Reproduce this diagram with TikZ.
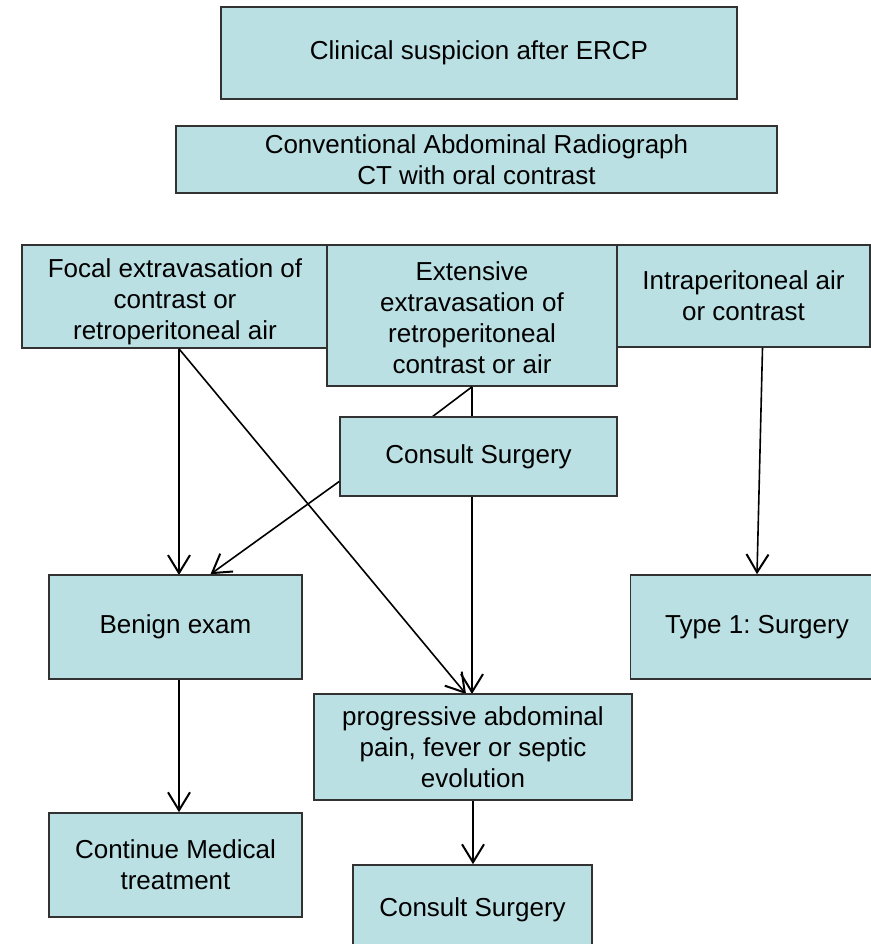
\documentclass[tikz,border=0pt]{standalone}
\usepackage{fontspec}
\setmainfont{Liberation Sans}
\usepackage{xcolor}
\definecolor{boxfill}{RGB}{187,224,227}
\definecolor{boxline}{RGB}{50,50,50}
\usetikzlibrary{arrows.meta,calc}

\tikzset{
  flowbox/.style={draw=boxline,fill=boxfill,line width=1.6pt,align=center,
    inner sep=2pt,font=\fontsize{26}{31}\selectfont\frenchspacing},
  arr/.style={-{Straight Barb[length=18pt,width=22pt,line width=2pt]},line width=1.6pt},
  link/.style={line width=1.6pt}
}

\begin{document}
\begin{tikzpicture}[x=1pt,y=-1pt]
  \useasboundingbox (0,0) rectangle (870,944);
  % Cajas superiores
  \node[flowbox,minimum width=516pt,minimum height=92pt] (clin) at (479,53) {Clinical suspicion after ERCP};
  \node[flowbox,minimum width=601pt,minimum height=67pt] (conv) at (476.5,159.5) {Conventional Abdominal Radiograph\\CT with oral contrast};
  % Hallazgos
  \node[flowbox,minimum width=306pt,minimum height=103pt] (focal) at (175,296.5) {\rule{0pt}{30pt}Focal extravasation of\\contrast or\\retroperitoneal air};
  \node[flowbox,minimum width=253pt,minimum height=102pt] (intra) at (743.5,296) {Intraperitoneal air\\or contrast};
  \node[flowbox,minimum width=290pt,minimum height=141pt] (ext) at (472,315.5) {\rule{0pt}{24pt}Extensive\\extravasation of\\retroperitoneal\\contrast or air};
  % Conectores (detras de las cajas)
  \coordinate (focalout) at ([xshift=4pt]focal.south);
  \coordinate (progtop) at (472,694);
  \coordinate (diagend) at (466,694);
  \coordinate (constop) at (432,417);
  \draw[arr] (focalout) -- (focalout |- 0,575);
  \draw[arr] (focalout) -- (diagend);
  \draw[arr] (ext.south) -- (progtop);
  \draw[link] (ext.south) -- (constop);
  % Resto de cajas
  \node[flowbox,minimum width=277pt,minimum height=79pt] (cons1) at (478.5,456.5) {Consult Surgery};
  \node[flowbox,minimum width=253pt,minimum height=104pt] (benign) at (175.5,627) {Benign exam};
  \node[flowbox,minimum width=253pt,minimum height=104pt] (type1) at (757,627) {Type 1: Surgery};
  \node[flowbox,minimum width=318pt,minimum height=106pt] (prog) at (473,747) {progressive abdominal\\pain, fever or septic\\evolution};
  \node[flowbox,minimum width=253pt,minimum height=104pt] (cont) at (175.5,865) {Continue Medical\\treatment};
  \node[flowbox,minimum width=239pt,minimum height=90pt] (cons2) at (472.5,910) {Consult Surgery};
  % Flechas restantes
  \draw[arr] ([yshift=-25pt]cons1.west) -- ([xshift=35pt]benign.north);
  \draw[arr] ([xshift=19pt]intra.south) -- (type1.north);
  \draw[arr] (focalout |- benign.south) -- (focalout |- cont.north);
  \draw[arr] (prog.south) -- (prog.south |- cons2.north);
\end{tikzpicture}
\end{document}
